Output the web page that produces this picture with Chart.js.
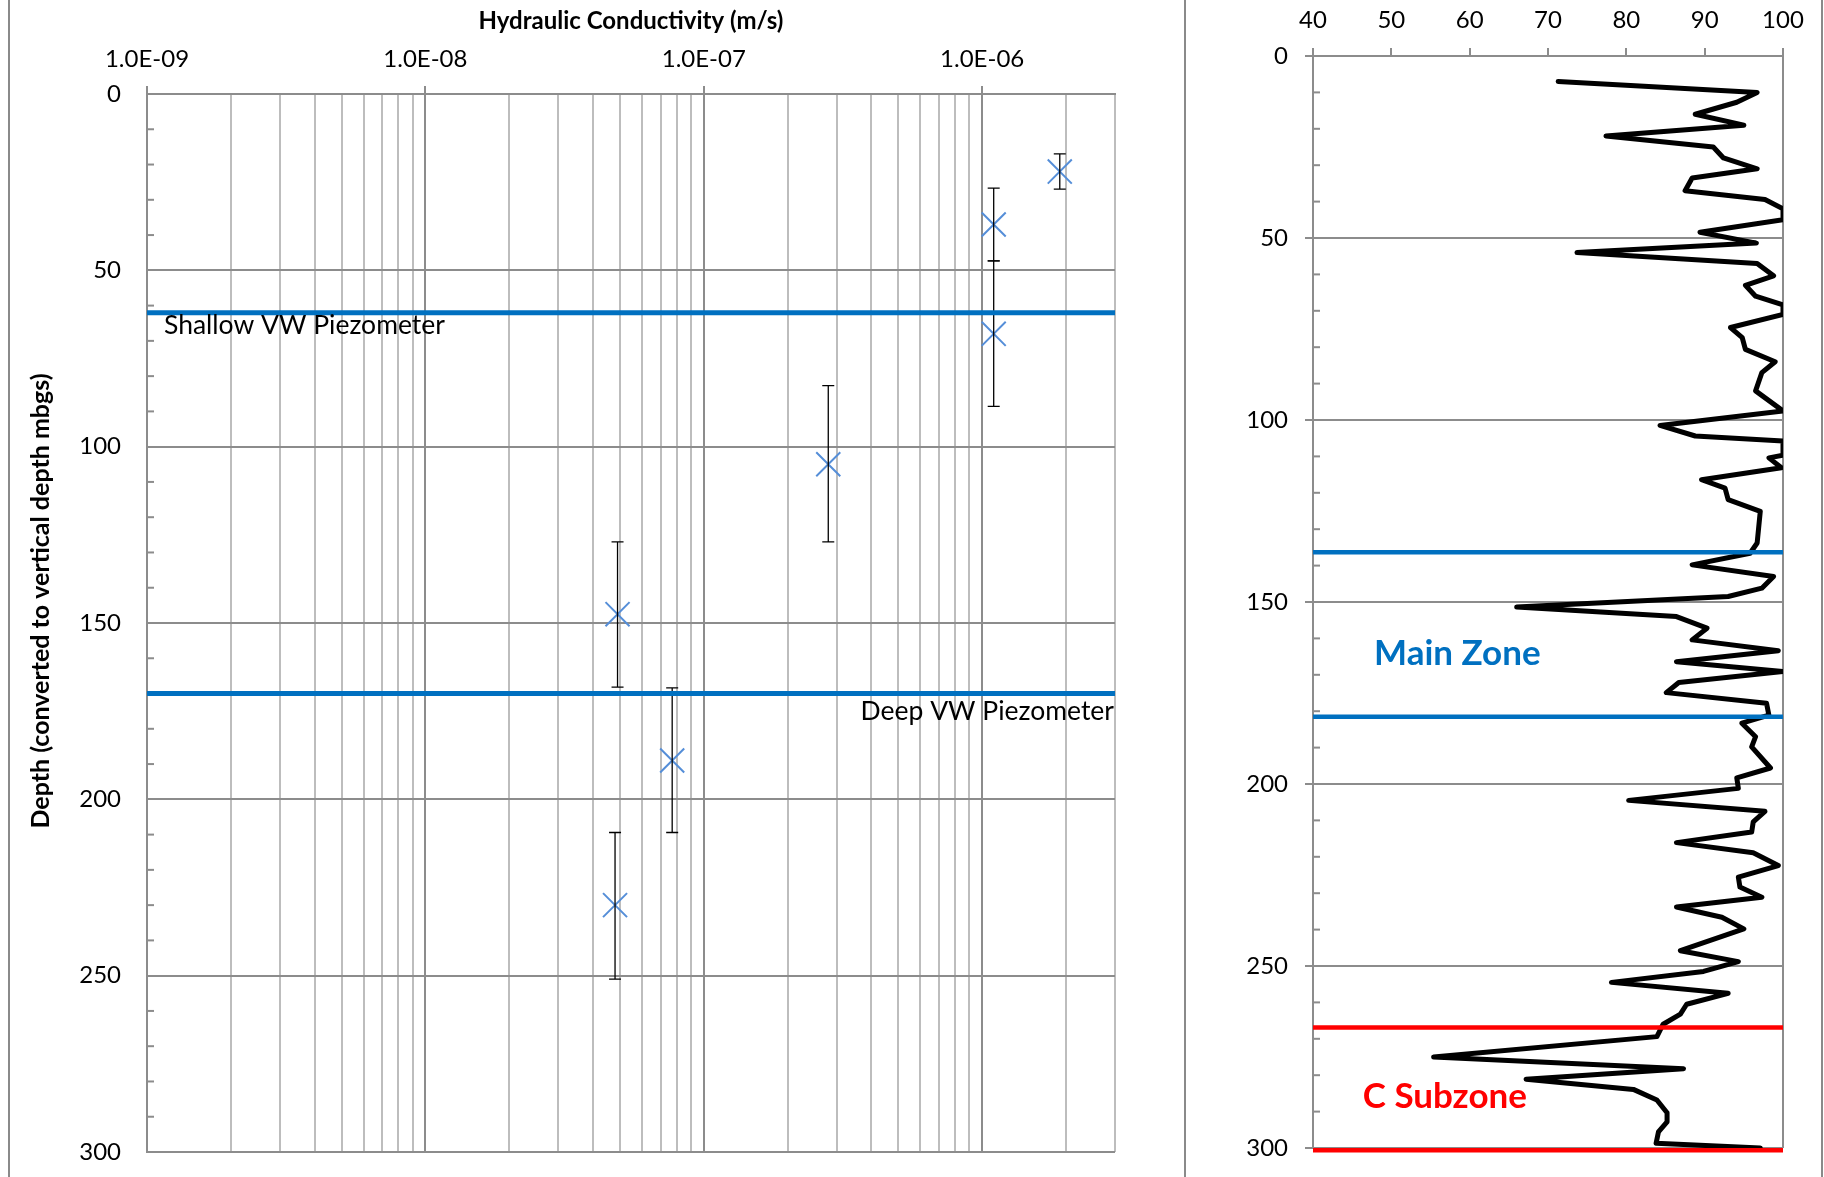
<!DOCTYPE html>
<html lang="en">
<head>
<meta charset="UTF-8">
<title>Hydraulic Conductivity and Depth Profile</title>
<script src="https://cdn.jsdelivr.net/npm/chart.js"></script>
<style>
  body { margin: 0; background: #fff; }
  canvas { display: block; }
  .panel { position: absolute; top: 0; height: 1177px; }
  #left { left: 0; width: 1184px; }
  #right { left: 1184px; width: 640px; }
  .frame { position: absolute; top: 0; width: 2px; height: 1177px; background: #8a8a8a; }
</style>
</head>
<body>
<div class="panel" id="left"><canvas id="kChart" width="1184" height="1177"></canvas></div>
<div class="panel" id="right"><canvas id="profileChart" width="640" height="1177"></canvas></div>
<div class="frame" style="left:8px"></div>
<div class="frame" style="left:1184px"></div>
<div class="frame" style="left:1821px"></div>

<script>
// packer tests: conductivity (m/s), mid depth and the tested interval (m)
const kValues = [1.9e-6, 1.1e-6, 1.1e-6, 2.8e-7, 4.9e-8, 7.7e-8, 4.8e-8];
const kDepths = [22, 37, 68, 105, 147.5, 189, 230];
const kDepthTop = [17, 26.7, 47.3, 82.7, 127, 168.4, 209.4];
const kDepthBottom = [27, 47.3, 88.6, 127, 168.2, 209.4, 251];

// vibrating wire piezometers
const piezoDepths = [62, 170];
const piezoLabels = ['Shallow VW Piezometer', 'Deep VW Piezometer'];

// axes
const kDecades = [1e-9, 1e-8, 1e-7, 1e-6];
const kMin = 1e-9;
const kMax = 3e-6;
const depthLabels = [0, 50, 100, 150, 200, 250, 300];
const percentTicks = [40, 50, 60, 70, 80, 90, 100];

// right hand profile (depth m, value %)
const profileDepths = [7, 10, 12.7, 16, 19, 22, 25, 28, 31, 33.5, 37, 39.4, 42, 45, 48.4, 51.4, 54, 57, 60.4, 63,
  66, 68.4, 71, 74.6, 77.4, 80.6, 84, 87, 92, 97.5, 101.5, 104.4, 105.8, 109.7, 110.4, 113.1, 116.4, 118.7, 121.9, 125.1,
  133.8, 136.6, 139.8, 143, 146.2, 148.5, 151.4, 154, 157.2, 160.4, 163.4, 166.4, 169.1, 172.1, 174.9, 177.8, 181.1, 183.3, 187, 189.8,
  195.6, 198.3, 201.2, 204.5, 207.5, 210.4, 213.2, 216.1, 218.9, 222.4, 225.6, 228.3, 231.1, 233.8, 236.6, 239.8, 245.8, 248.8, 251.5, 254.5,
  257.5, 260.5, 263.2, 266, 269.4, 275, 278.2, 281.1, 283.9, 286.8, 290.3, 292.8, 295.6, 298.7, 300];
const profileValues = [71.3, 96.7, 94.1, 88.8, 95.0, 77.4, 91.1, 92.4, 96.7, 88.4, 87.5, 97.7, 100, 100, 89.4, 96.6, 73.7, 96.7, 98.8, 95.2,
  96.5, 100, 100, 93.3, 94.8, 95.2, 99.0, 97.3, 96.5, 100, 84.3, 88.8, 100, 100, 98.2, 99.8, 89.6, 92.6, 93.0, 97.1,
  96.7, 95.8, 88.4, 98.8, 97.3, 93.0, 66.0, 86.4, 90.3, 88.4, 99.4, 86.4, 100, 86.7, 85.1, 97.9, 98.2, 94.75, 96.5, 96.0,
  98.4, 94.1, 94.3, 80.3, 97.7, 96.2, 96.0, 86.4, 96.2, 99.4, 94.3, 94.5, 97.3, 86.4, 92.2, 95.0, 86.9, 94.3, 89.85, 78.1,
  93.0, 87.7, 86.9, 84.7, 83.9, 55.4, 87.3, 67.2, 80.9, 83.9, 85.2, 85.2, 84.1, 83.8, 97.1];

// zone boundaries on the profile
const zoneDepths = [136.3, 181.5, 266.9, 300.6];
const zoneColors = ['#0070C0', '#0070C0', '#FF0000', '#FF0000'];
const zoneNames = ['Main Zone', 'C Subzone'];

Chart.defaults.font.family = 'Lato, "Open Sans", sans-serif';
Chart.defaults.font.size = 24;
Chart.defaults.color = '#000';
Chart.defaults.animation = false;

const GRID_DARK = '#8c8c8c';
const GRID_LIGHT = '#bdbdbd';
const NONE = 'rgba(0,0,0,0)';

function sciLabel(v) {
  const parts = v.toExponential(1).split('e');
  const exp = parseInt(parts[1], 10);
  return parts[0] + 'E' + (exp < 0 ? '-' : '+') + String(Math.abs(exp)).padStart(2, '0');
}

function depthTickList() {
  const list = [];
  for (let d = 0; d <= 300; d += 10) list.push({ value: d, major: depthLabels.includes(d) });
  return list;
}

// small inside ticks on the depth axis, every 10 m
const minorTicks = {
  id: 'minorTicks',
  beforeDatasetsDraw(chart) {
    const { ctx, chartArea } = chart;
    const y = chart.scales.y;
    ctx.save();
    ctx.strokeStyle = GRID_DARK;
    ctx.lineWidth = 2;
    y.ticks.forEach(t => {
      if (t.major) return;
      const py = y.getPixelForValue(t.value);
      ctx.beginPath();
      ctx.moveTo(chartArea.left, py);
      ctx.lineTo(chartArea.left + 7, py);
      ctx.stroke();
    });
    ctx.restore();
  }
};

// error bars drawn right after the marker dataset
const errorBars = {
  id: 'errorBars',
  afterDatasetDraw(chart, args) {
    if (chart.data.datasets[args.index].label !== 'K') return;
    const { ctx } = chart;
    const x = chart.scales.x, y = chart.scales.y;
    ctx.save();
    ctx.strokeStyle = '#000';
    ctx.lineWidth = 1.3;
    kValues.forEach((k, i) => {
      const px = x.getPixelForValue(k);
      const top = y.getPixelForValue(kDepthTop[i]);
      const bot = y.getPixelForValue(kDepthBottom[i]);
      ctx.beginPath();
      ctx.moveTo(px, top); ctx.lineTo(px, bot);
      ctx.moveTo(px - 6, top); ctx.lineTo(px + 6, top);
      ctx.moveTo(px - 6, bot); ctx.lineTo(px + 6, bot);
      ctx.stroke();
    });
    ctx.restore();
  }
};

const textLabels = {
  id: 'textLabels',
  afterDraw(chart, args, opts) {
    const { ctx } = chart;
    (opts.items || []).forEach(it => {
      let px = it.px, py = it.py;
      if (it.x !== undefined) {
        px = chart.scales.x.getPixelForValue(it.x) + (it.dx || 0);
        py = chart.scales.y.getPixelForValue(it.y) + (it.dy || 0);
      }
      ctx.save();
      ctx.font = it.font;
      ctx.fillStyle = it.color || '#000';
      ctx.textAlign = it.align || 'left';
      ctx.textBaseline = it.baseline || 'alphabetic';
      ctx.translate(px, py);
      if (it.rotate) ctx.rotate(it.rotate);
      ctx.fillText(it.text, 0, 0);
      ctx.restore();
    });
  }
};

// fixed axis sizes so the plot areas sit where the original ones do
function fixDepthAxis(width) {
  return s => {
    s.width = width;
    s.paddingTop = 0;
    s.paddingBottom = 0;
  };
}

// ---------- left chart: hydraulic conductivity ----------
const kTicks = [];
kDecades.forEach(d => {
  for (let m = 1; m <= 9; m++) {
    if (m * d <= kMax * 1.0001) kTicks.push({ value: m * d, major: m === 1 });
  }
});

new Chart(document.getElementById('kChart'), {
  type: 'scatter',
  data: {
    datasets: [
      ...piezoDepths.map(d => ({
        label: 'piezo',
        data: [{ x: kMin, y: d }, { x: kMax, y: d }],
        showLine: true,
        borderColor: '#0070C0',
        borderWidth: 5,
        pointRadius: 0,
        clip: false
      })),
      {
        label: 'K',
        data: kValues.map((k, i) => ({ x: k, y: kDepths[i] })),
        pointStyle: 'crossRot',
        pointRadius: 17,
        borderColor: '#558ed8',
        backgroundColor: '#558ed8',
        pointBorderWidth: 2
      }
    ]
  },
  options: {
    responsive: false,
    events: [],
    layout: { padding: { left: 0, top: 0, right: 69, bottom: 25 } },
    plugins: {
      legend: { display: false },
      tooltip: { enabled: false },
      textLabels: {
        items: [
          { text: piezoLabels[0], x: kMin, y: piezoDepths[0], dx: 17, dy: 21, font: '26.5px Lato' },
          { text: piezoLabels[1], x: kMax, y: piezoDepths[1], dx: -1, dy: 26, align: 'right', font: '26.5px Lato' },
          { text: 'Depth (converted to vertical depth mbgs)', px: 41, py: 601, rotate: -Math.PI / 2,
            align: 'center', baseline: 'middle', font: 'bold 25px Lato' }
        ]
      }
    },
    scales: {
      x: {
        type: 'logarithmic',
        position: 'top',
        min: kMin,
        max: kMax,
        afterBuildTicks: s => { s.ticks = kTicks.map(t => ({ ...t })); },
        afterFit: s => { s.height = 94; },
        ticks: {
          autoSkip: false,
          maxRotation: 0,
          padding: 12,
          callback: (v, i, ticks) => (ticks[i].major ? sciLabel(v) : '')
        },
        grid: {
          color: c => (c.tick && c.tick.major ? GRID_DARK : GRID_LIGHT),
          tickColor: c => (c.tick && c.tick.major ? GRID_DARK : NONE),
          lineWidth: 2,
          tickLength: 8
        },
        border: { color: GRID_DARK, width: 2 },
        title: {
          display: true,
          text: 'Hydraulic Conductivity (m/s)',
          font: { weight: 'bold', size: 24 },
          padding: { top: 7, bottom: 0 }
        }
      },
      y: {
        type: 'linear',
        reverse: true,
        min: 0,
        max: 300,
        afterBuildTicks: s => { s.ticks = depthTickList(); },
        afterFit: fixDepthAxis(147),
        ticks: {
          autoSkip: false,
          padding: 26,
          callback: (v, i, ticks) => (ticks[i].major ? v : '')
        },
        grid: {
          color: c => (c.tick && c.tick.major ? GRID_DARK : NONE),
          lineWidth: 2,
          drawTicks: false
        },
        border: { color: GRID_DARK, width: 2 }
      }
    }
  },
  plugins: [minorTicks, errorBars, textLabels]
});

// ---------- right chart: depth profile ----------
new Chart(document.getElementById('profileChart'), {
  type: 'scatter',
  data: {
    datasets: [
      ...zoneDepths.map((d, i) => ({
        label: 'zone',
        data: [{ x: 40, y: d }, { x: 100, y: d }],
        showLine: true,
        borderColor: zoneColors[i],
        borderWidth: 4.5,
        pointRadius: 0,
        clip: false
      })),
      {
        label: 'profile',
        data: profileValues.map((v, i) => ({ x: v, y: profileDepths[i] })),
        showLine: true,
        borderColor: '#000',
        borderWidth: 5,
        borderJoinStyle: 'round',
        borderCapStyle: 'round',
        pointRadius: 0,
        tension: 0
      }
    ]
  },
  options: {
    responsive: false,
    events: [],
    layout: { padding: { left: 0, top: 0, right: 41, bottom: 29 } },
    plugins: {
      legend: { display: false },
      tooltip: { enabled: false },
      textLabels: {
        items: [
          { text: zoneNames[0], x: 47.8, y: 167.3, color: '#0070C0', font: 'bold 35px Lato' },
          { text: zoneNames[1], x: 46.35, y: 289, color: '#FF0000', font: 'bold 35px Lato' }
        ]
      }
    },
    scales: {
      x: {
        type: 'linear',
        position: 'top',
        min: 40,
        max: 100,
        afterBuildTicks: s => { s.ticks = percentTicks.map(v => ({ value: v })); },
        afterFit: s => { s.height = 56; },
        ticks: { autoSkip: false, maxRotation: 0, padding: 13 },
        grid: {
          color: c => (c.tick && c.tick.value === 100 ? GRID_DARK : NONE),
          tickColor: GRID_DARK,
          lineWidth: 2,
          tickLength: 8
        },
        border: { color: GRID_DARK, width: 2 }
      },
      y: {
        type: 'linear',
        reverse: true,
        min: 0,
        max: 300,
        afterBuildTicks: s => { s.ticks = depthTickList(); },
        afterFit: fixDepthAxis(129),
        ticks: {
          autoSkip: false,
          padding: 17,
          callback: (v, i, ticks) => (ticks[i].major ? v : '')
        },
        grid: {
          color: c => (c.tick && c.tick.major ? GRID_DARK : NONE),
          tickColor: c => (c.tick && c.tick.major ? GRID_DARK : NONE),
          lineWidth: 2,
          tickLength: 8
        },
        border: { color: GRID_DARK, width: 2 }
      }
    }
  },
  plugins: [minorTicks, textLabels]
});
</script>
</body>
</html>
